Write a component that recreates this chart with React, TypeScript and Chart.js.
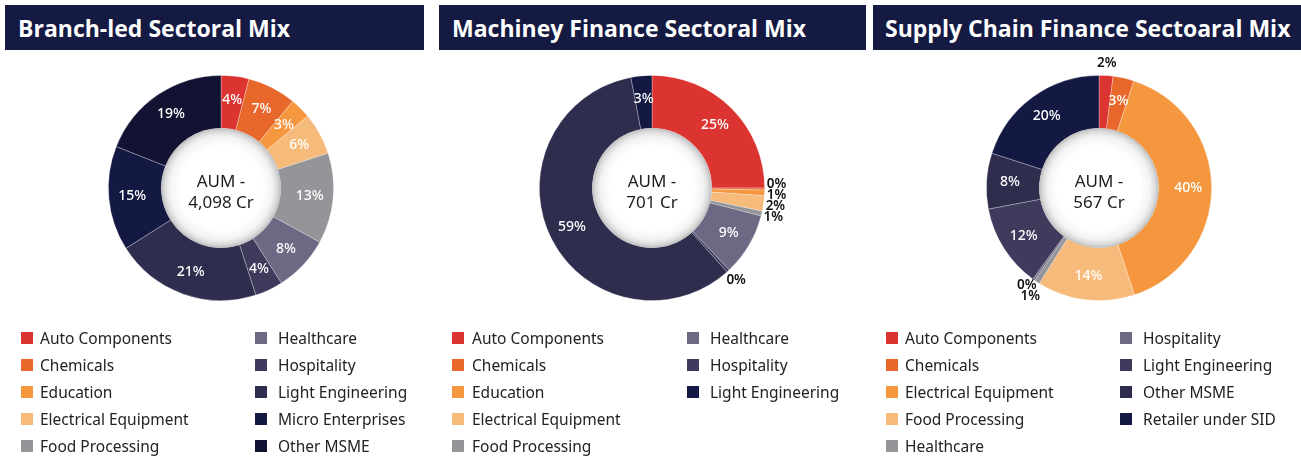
import React, { useEffect, useRef } from 'react';
import { Chart, registerables } from 'chart.js';

Chart.register(...registerables);

const FONT = "'Noto Sans', sans-serif";
const TITLE_FONT = "'Open Sans', 'Noto Sans', sans-serif";

// ---------- data ----------
const branchTitle = 'Branch-led Sectoral Mix';
const branchCenter = ['AUM -', '4,098 Cr'];
const branchCategories = [
  'Auto Components', 'Chemicals', 'Education', 'Electrical Equipment', 'Food Processing',
  'Healthcare', 'Hospitality', 'Light Engineering', 'Micro Enterprises', 'Other MSME',
];
const branchValues = [4, 7, 3, 6, 13, 8, 4, 21, 15, 19];
const branchColors = [
  '#DC3531', '#E8672B', '#F5973F', '#F6BA7A', '#939598',
  '#6D6884', '#3E3B5C', '#2E2D4E', '#141943', '#121232',
];
const branchLegendLabels = branchCategories;
const branchLegendColors = branchColors;

const machineryTitle = 'Machiney Finance Sectoral Mix';
const machineryCenter = ['AUM -', '701 Cr'];
const machineryCategories = [
  'Auto Components', 'Chemicals', 'Education', 'Electrical Equipment', 'Food Processing',
  'Healthcare', 'Hospitality', 'Other', 'Light Engineering',
];
const machineryValues = [25, 0.3, 0.8, 2.2, 0.7, 9, 0.4, 58.6, 3];
const machineryColors = [
  '#DC3531', '#E8672B', '#F5973F', '#F6BA7A', '#939598',
  '#6D6884', '#3E3B5C', '#2E2D4E', '#141943',
];
const machineryLegendLabels = [
  'Auto Components', 'Chemicals', 'Education', 'Electrical Equipment', 'Food Processing',
  'Healthcare', 'Hospitality', 'Light Engineering',
];
const machineryLegendColors = [
  '#DC3531', '#E8672B', '#F5973F', '#F6BA7A', '#939598',
  '#6D6884', '#3E3B5C', '#141943',
];

const supplyTitle = 'Supply Chain Finance Sectoaral Mix';
const supplyCenter = ['AUM -', '567 Cr'];
const supplyCategories = [
  'Auto Components', 'Chemicals', 'Electrical Equipment', 'Food Processing', 'Healthcare',
  'Hospitality', 'Light Engineering', 'Other MSME', 'Retailer under SID',
];
const supplyValues = [2, 3, 39.9, 14, 0.8, 0.3, 12, 8, 20];
const supplyColors = [
  '#DC3531', '#E8672B', '#F5973F', '#F6BA7A', '#939598',
  '#6D6884', '#3E3B5C', '#2E2D4E', '#141943',
];
const supplyLegendLabels = supplyCategories;
const supplyLegendColors = supplyColors;

// ---------- layout ----------
const panels = [
  {
    title: branchTitle, center: branchCenter, categories: branchCategories, values: branchValues,
    colors: branchColors, legendLabels: branchLegendLabels, legendColors: branchLegendColors,
    header: { left: 5, width: 419, pad: 13 }, cx: 220.5, legend: { sq1: 21, tx1: 40, sq2: 255, tx2: 278 },
  },
  {
    title: machineryTitle, center: machineryCenter, categories: machineryCategories, values: machineryValues,
    colors: machineryColors, legendLabels: machineryLegendLabels, legendColors: machineryLegendColors,
    header: { left: 439, width: 427, pad: 13 }, cx: 651.5, legend: { sq1: 452, tx1: 472, sq2: 687, tx2: 710 },
  },
  {
    title: supplyTitle, center: supplyCenter, categories: supplyCategories, values: supplyValues,
    colors: supplyColors, legendLabels: supplyLegendLabels, legendColors: supplyLegendColors,
    header: { left: 873, width: 428, pad: 12 }, cx: 1098.5, legend: { sq1: 886, tx1: 905, sq2: 1120, tx2: 1143 },
  },
];

const CY = 188;
const RADIUS = 113;
const CW = 340;
const CH = 290;

const donutDecor = {
  id: 'donutDecor',
  afterDatasetsDraw(chart: any, _args: any, opts: any) {
    const meta = chart.getDatasetMeta(0);
    const arcs = meta.data as any[];
    if (!arcs.length) return;
    const g0 = arcs[0].getProps(['x', 'y', 'innerRadius', 'outerRadius'], true);
    const cx = g0.x, cy = g0.y, ir = g0.innerRadius, or = g0.outerRadius;
    const ctx: CanvasRenderingContext2D = chart.ctx;
    ctx.save();
    // hole with soft shadow
    const g = ctx.createRadialGradient(cx, cy, 0, cx, cy, ir);
    g.addColorStop(0, '#ffffff');
    g.addColorStop(0.7, '#ffffff');
    g.addColorStop(0.86, '#f3f3f3');
    g.addColorStop(0.95, '#d9d9d9');
    g.addColorStop(1, '#bcbcbc');
    ctx.beginPath();
    ctx.arc(cx, cy, ir, 0, Math.PI * 2);
    ctx.fillStyle = g;
    ctx.fill();

    // centre text
    const lines: string[] = opts.centerLines || [];
    ctx.fillStyle = '#1d1d1d';
    ctx.font = `17px ${FONT}`;
    ctx.textAlign = 'center';
    ctx.textBaseline = 'middle';
    lines.forEach((t, i) => {
      ctx.fillText(t, cx, cy + 5 + (i - (lines.length - 1) / 2) * 21);
    });

    // value labels
    const values: number[] = chart.data.datasets[0].data;
    const inside: any[] = [];
    const outside: any[] = [];
    arcs.forEach((arc, i) => {
      const p = arc.getProps(['startAngle', 'endAngle'], true);
      const mid = (p.startAngle + p.endAngle) / 2;
      const v = values[i];
      const text = Math.round(v) + '%';
      if (v < opts.outsideBelow) {
        const r = or + 12;
        outside.push({ text, x: cx + Math.cos(mid) * r, y: cy + Math.sin(mid) * r });
      } else {
        const r = (ir + or) / 2 + 3;
        inside.push({ text, x: cx + Math.cos(mid) * r, y: cy + Math.sin(mid) * r });
      }
    });

    ctx.font = `500 14px ${FONT}`;
    ctx.fillStyle = '#ffffff';
    inside.forEach((l) => ctx.fillText(l.text, l.x, l.y));

    // resolve overlap of outside labels per side
    const gap = 11;
    const sides = [outside.filter((l) => l.x >= cx), outside.filter((l) => l.x < cx)];
    sides.forEach((group) => {
      group.sort((a, b) => a.y - b.y);
      for (let it = 0; it < 60; it++) {
        for (let k = 1; k < group.length; k++) {
          const a = group[k - 1], b = group[k];
          if (Math.abs(a.x - b.x) < 24) {
            const d = b.y - a.y;
            if (d < gap) {
              const s = (gap - d) / 2;
              a.y -= s;
              b.y += s;
            }
          }
        }
      }
    });
    ctx.font = `600 13.5px ${FONT}`;
    ctx.fillStyle = '#111111';
    outside.forEach((l) => ctx.fillText(l.text, l.x, l.y));
    ctx.restore();
  },
};

function DonutPanel({ panel }: { panel: any }) {
  const ref = useRef<HTMLCanvasElement | null>(null);
  useEffect(() => {
    if (!ref.current) return;
    const padX = (CW - RADIUS * 2) / 2;
    const padY = (CH - RADIUS * 2) / 2;
    const chart = new Chart(ref.current, {
      type: 'doughnut',
      data: {
        labels: panel.categories,
        datasets: [
          {
            data: panel.values,
            backgroundColor: panel.colors,
            borderColor: 'rgba(255,255,255,0.35)',
            borderWidth: 0.8,
            hoverOffset: 0,
          },
        ],
      },
      options: {
        responsive: false,
        animation: false,
        devicePixelRatio: 1,
        cutout: '53%',
        layout: { padding: { left: padX, right: padX, top: padY, bottom: padY } },
        plugins: {
          legend: { display: false },
          tooltip: { enabled: false },
          donutDecor: { centerLines: panel.center, outsideBelow: 2.5 },
        } as any,
      },
      plugins: [donutDecor as any],
    });
    return () => chart.destroy();
  }, [panel]);

  const rowY = (i: number) => 338 + (i % 5) * 27;
  return (
    <>
      <canvas
        ref={ref}
        width={CW}
        height={CH}
        style={{ position: 'absolute', left: panel.cx - CW / 2, top: CY - CH / 2, width: CW, height: CH }}
      />
      <div
        style={{
          position: 'absolute', left: panel.header.left, top: 5, width: panel.header.width, height: 45,
          background: '#141A42', color: '#fff', boxSizing: 'border-box', paddingLeft: panel.header.pad,
          display: 'flex', alignItems: 'center', font: `bold 23px ${TITLE_FONT}`, whiteSpace: 'nowrap',
          overflow: 'hidden',
        }}
      >
        {panel.title}
      </div>
      {panel.legendLabels.map((lab: string, i: number) => {
        const col = i < 5 ? 0 : 1;
        const sq = col === 0 ? panel.legend.sq1 : panel.legend.sq2;
        const tx = col === 0 ? panel.legend.tx1 : panel.legend.tx2;
        const y = rowY(i);
        return (
          <React.Fragment key={lab + i}>
            <div style={{ position: 'absolute', left: sq, top: y - 6, width: 12, height: 12, background: panel.legendColors[i] }} />
            <div
              style={{
                position: 'absolute', left: tx, top: y, transform: 'translateY(-50%)',
                font: `15.5px ${FONT}`, color: '#222', whiteSpace: 'nowrap', lineHeight: '18px',
              }}
            >
              {lab}
            </div>
          </React.Fragment>
        );
      })}
    </>
  );
}

export default function App() {
  return (
    <div style={{ position: 'absolute', left: 0, top: 0, width: 1301, height: 473, background: '#fff', overflow: 'hidden' }}>
      {panels.map((p, i) => (
        <DonutPanel key={i} panel={p} />
      ))}
    </div>
  );
}
